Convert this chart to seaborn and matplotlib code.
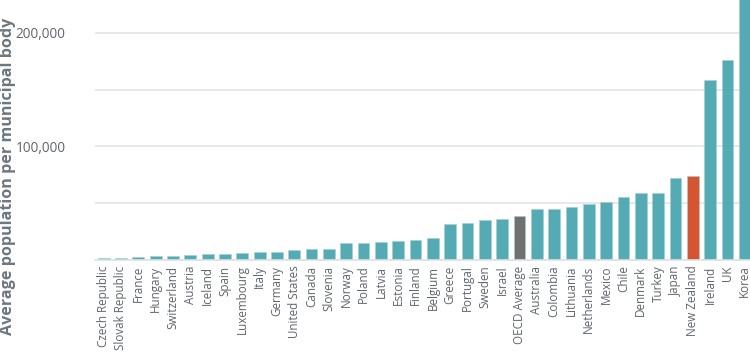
import matplotlib
matplotlib.use("Agg")
import matplotlib.pyplot as plt
import seaborn as sns
import pandas as pd
from matplotlib.ticker import MultipleLocator, FuncFormatter

countries = ["Czech Republic", "Slovak Republic", "France", "Hungary", "Switzerland",
             "Austria", "Iceland", "Spain", "Luxembourg", "Italy", "Germany",
             "United States", "Canada", "Slovenia", "Norway", "Poland", "Latvia",
             "Estonia", "Finland", "Belgium", "Greece", "Portugal", "Sweden", "Israel",
             "OECD Average", "Australia", "Colombia", "Lithuania", "Netherlands",
             "Mexico", "Chile", "Denmark", "Turkey", "Japan", "New Zealand",
             "Ireland", "UK", "Korea"]
population = [2000, 2000, 2400, 3100, 3800, 4100, 5000, 5600, 6100, 7300, 7300,
              9100, 9600, 9600, 14600, 15200, 15800, 16700, 17500, 19600, 31900,
              33000, 35100, 35700, 38600, 44700, 45300, 46500, 49100, 51200, 55300,
              59400, 59400, 71900, 74300, 158200, 175700, 235000]

teal = "#55ABB3"
palette = {c: teal for c in countries}
palette["OECD Average"] = "#707070"
palette["New Zealand"] = "#D4552F"

df = pd.DataFrame({"country": countries, "population": population})

sns.set_theme(style="white")
plt.rcParams["font.family"] = ["Open Sans", "DejaVu Sans"]

fig = plt.figure(figsize=(7.5, 3.52), dpi=100)
ax = fig.add_axes([95 / 750, 92 / 352, 655 / 750, 260 / 352])

sns.barplot(data=df, x="country", y="population", hue="country", palette=palette,
            legend=False, width=0.68, ax=ax, edgecolor="#9fd0d4", linewidth=0.4,
            saturation=1)

ax.set_xlim(-0.5, 37.3)
ax.set_ylim(0, 228800)
ax.yaxis.set_major_locator(MultipleLocator(100000))
ax.yaxis.set_minor_locator(MultipleLocator(50000))
ax.yaxis.set_major_formatter(FuncFormatter(lambda v, p: f"{int(v):,}" if v > 0 else ""))
ax.grid(axis="y", which="both", color="#e1e5e9", linewidth=1.2)
ax.set_axisbelow(True)
for s in ["top", "right", "left"]:
    ax.spines[s].set_visible(False)
ax.spines["bottom"].set_color("#dde2e6")
ax.spines["bottom"].set_linewidth(1.2)

ax.tick_params(axis="y", which="both", length=0, pad=21, labelsize=9.8, labelcolor="#5f656c")
ax.tick_params(axis="x", length=0, pad=4, labelsize=8.4, labelcolor="#5f656c")
plt.setp(ax.get_xticklabels(), rotation=90)
ax.set_xlabel("")
ax.set_ylabel("")

fig.text(8 / 750, 1 - 176 / 352, "Average population per municipal body", rotation=90,
         ha="center", va="center", fontsize=11.6, fontweight="bold", color="#6e7780")

fig.savefig("out.png", dpi=100)
